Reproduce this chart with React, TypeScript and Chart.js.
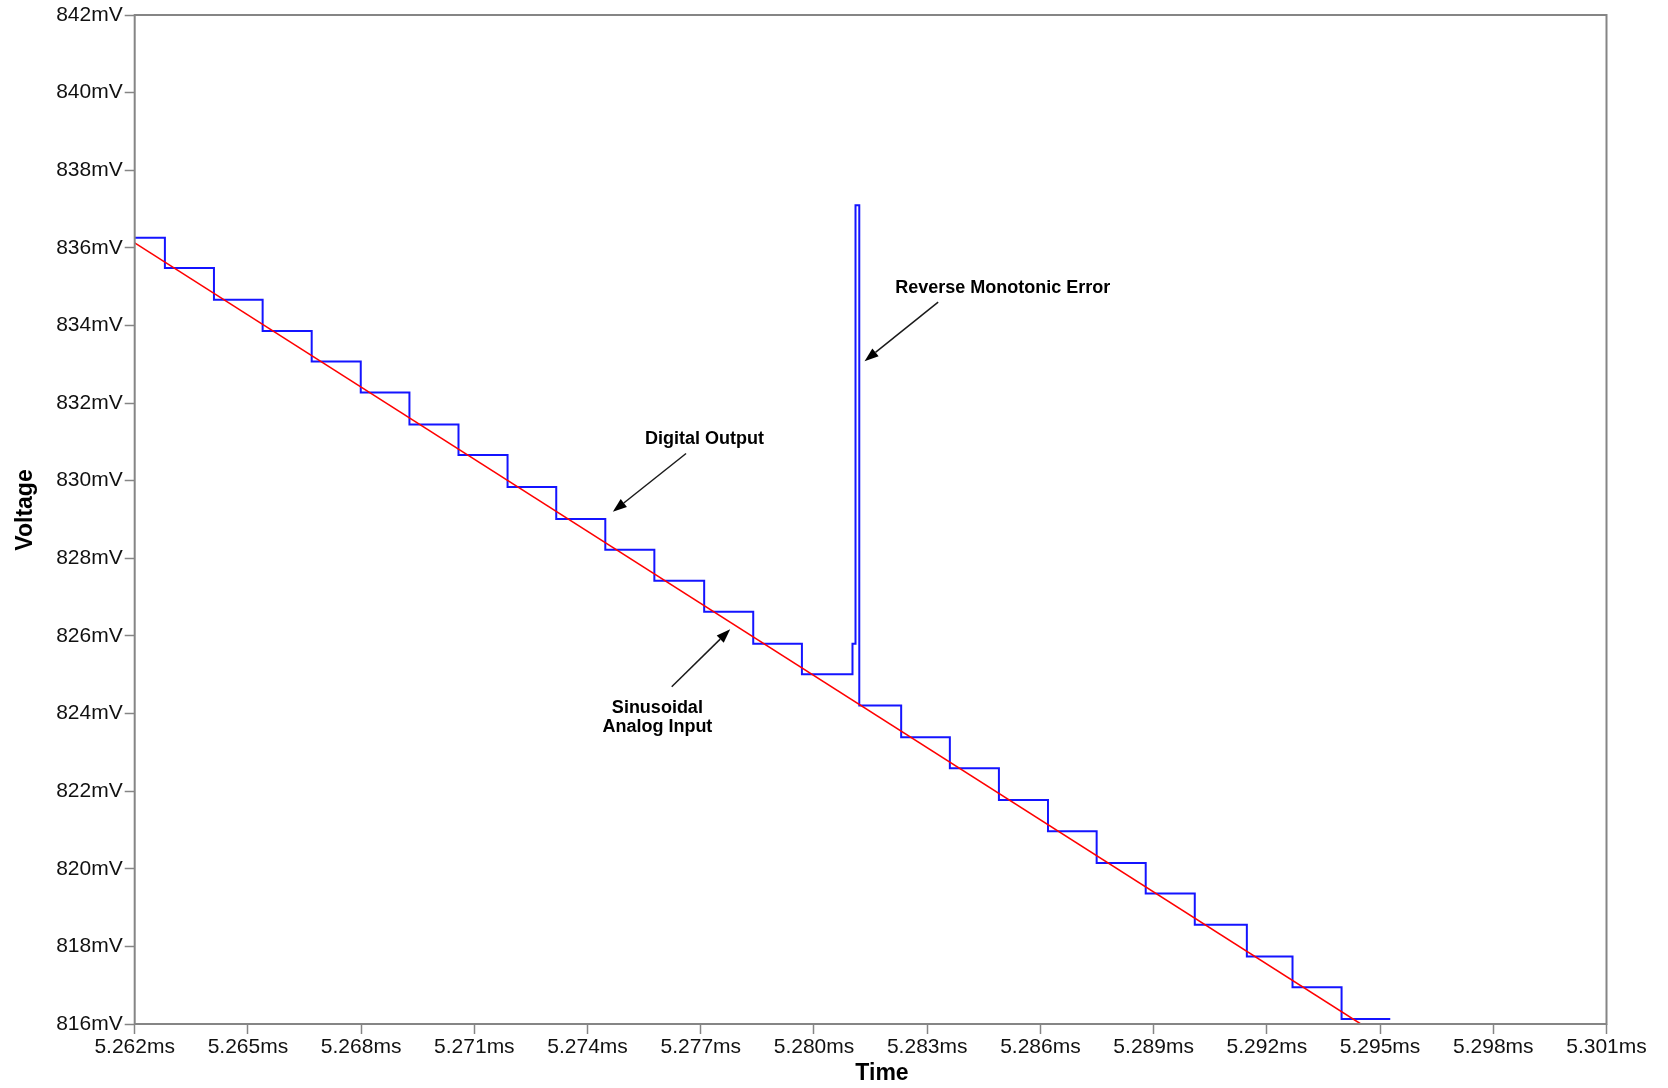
import React, { useEffect, useRef } from "react";
import { Chart, registerables } from "chart.js";

Chart.register(...registerables);

// Time axis ticks (ms) and voltage axis ticks (mV)
const xTicks = [5.262, 5.265, 5.268, 5.271, 5.274, 5.277, 5.28, 5.283, 5.286, 5.289, 5.292, 5.295, 5.298, 5.301];
const yTicks = [816, 818, 820, 822, 824, 826, 828, 830, 832, 834, 836, 838, 840, 842];

// Digital output (step-before: level holds from its time onward)
const digitalTimes = [
  5.262, 5.2628, 5.2641, 5.26539, 5.26669, 5.26799, 5.26928, 5.27058, 5.27188, 5.27317,
  5.27447, 5.27577, 5.27709, 5.27839, 5.27968, 5.28102, 5.2811, 5.2812, 5.28231, 5.2836,
  5.2849, 5.2862, 5.28749, 5.28879, 5.29009, 5.29147, 5.29268, 5.29398, 5.29527,
];
const digitalLevels = [
  836.26, 835.48, 834.66, 833.86, 833.07, 832.27, 831.45, 830.66, 829.84, 829.01,
  828.22, 827.42, 826.62, 825.8, 825.01, 825.8, 837.1, 824.21, 823.39, 822.59,
  821.77, 820.97, 820.15, 819.36, 818.56, 817.74, 816.95, 816.13, 816.13,
];

// Sinusoidal analog input (nearly straight over this window)
const analogTimes = [5.262, 5.29449];
const analogLevels = [836.13, 816.0];

// Annotations (data coordinates)
const annotationTexts = [
  { lines: ["Reverse Monotonic Error"], t: 5.285, v: 834.98 },
  { lines: ["Digital Output"], t: 5.2771, v: 831.09 },
  { lines: ["Sinusoidal", "Analog Input"], t: 5.27585, v: 824.18 },
];
const annotationArrows = [
  { t1: 5.28329, v1: 834.6, t2: 5.28134, v2: 833.08 },
  { t1: 5.27661, v1: 830.7, t2: 5.27467, v2: 829.2 },
  { t1: 5.27623, v1: 824.69, t2: 5.27778, v2: 826.17 },
];

const FONT = "'Liberation Sans', Arial, Helvetica, sans-serif";
const AXIS_GRAY = "#858585";

const overlayPlugin = {
  id: "overlay",
  afterDraw(chart: any) {
    const { ctx, chartArea, scales } = chart;
    const xs = scales.x;
    const ys = scales.y;
    ctx.save();
    // frame
    ctx.strokeStyle = AXIS_GRAY;
    ctx.lineWidth = 2;
    ctx.strokeRect(chartArea.left, chartArea.top, chartArea.right - chartArea.left, chartArea.bottom - chartArea.top);

    // axis titles
    ctx.fillStyle = "#000";
    ctx.font = `bold 23px ${FONT}`;
    ctx.textAlign = "center";
    ctx.textBaseline = "middle";
    ctx.fillText("Time", 882, 1074);
    ctx.save();
    ctx.translate(26, 510);
    ctx.rotate(-Math.PI / 2);
    ctx.fillText("Voltage", 0, 0);
    ctx.restore();

    // annotation texts
    ctx.font = `bold 18px ${FONT}`;
    for (const a of annotationTexts) {
      const x = xs.getPixelForValue(a.t);
      const y = ys.getPixelForValue(a.v);
      a.lines.forEach((ln, i) => ctx.fillText(ln, x, y + 1 + i * 19));
    }

    // arrows
    ctx.strokeStyle = "#1a1a1a";
    ctx.fillStyle = "#000";
    ctx.lineWidth = 1.5;
    for (const ar of annotationArrows) {
      const x1 = xs.getPixelForValue(ar.t1);
      const y1 = ys.getPixelForValue(ar.v1);
      const x2 = xs.getPixelForValue(ar.t2);
      const y2 = ys.getPixelForValue(ar.v2);
      const ang = Math.atan2(y2 - y1, x2 - x1);
      const hl = 14;
      const hw = 5;
      const bx = x2 - hl * Math.cos(ang);
      const by = y2 - hl * Math.sin(ang);
      ctx.beginPath();
      ctx.moveTo(x1, y1);
      ctx.lineTo(bx, by);
      ctx.stroke();
      ctx.beginPath();
      ctx.moveTo(x2, y2);
      ctx.lineTo(bx + hw * Math.sin(ang), by - hw * Math.cos(ang));
      ctx.lineTo(bx - hw * Math.sin(ang), by + hw * Math.cos(ang));
      ctx.closePath();
      ctx.fill();
    }
    ctx.restore();
  },
};

export default function App() {
  const canvasRef = useRef<HTMLCanvasElement | null>(null);

  useEffect(() => {
    const canvas = canvasRef.current;
    if (!canvas) return;
    const analog = analogTimes.map((t, i) => ({ x: t, y: analogLevels[i] }));
    const digital = digitalTimes.map((t, i) => ({ x: t, y: digitalLevels[i] }));

    const chart = new Chart(canvas, {
      type: "line",
      data: {
        datasets: [
          {
            label: "Sinusoidal Analog Input",
            data: analog,
            borderColor: "#ff0000",
            borderWidth: 1.5,
            pointRadius: 0,
            tension: 0,
          },
          {
            label: "Digital Output",
            data: digital,
            borderColor: "#1414ff",
            borderWidth: 2,
            pointRadius: 0,
            stepped: "before",
            tension: 0,
          },
        ],
      },
      options: {
        animation: false,
        responsive: false,
        devicePixelRatio: 1,
        layout: { padding: { top: 15, right: 61.5, left: 0, bottom: 0 } },
        plugins: {
          legend: { display: false },
          tooltip: { enabled: false },
        },
        scales: {
          x: {
            type: "linear",
            min: 5.262,
            max: 5.301,
            border: { display: false },
            grid: {
              drawOnChartArea: false,
              drawTicks: true,
              tickLength: 10,
              tickWidth: 1.5,
              tickColor: AXIS_GRAY,
              color: AXIS_GRAY,
            },
            ticks: {
              autoSkip: false,
              maxRotation: 0,
              minRotation: 0,
              padding: 1,
              color: "#111",
              font: { family: FONT, size: 21 },
              callback: (v: any) => Number(v).toFixed(3) + "ms",
            },
            afterBuildTicks: (scale: any) => {
              scale.ticks = xTicks.map((v) => ({ value: v }));
            },
            afterFit: (scale: any) => {
              scale.height = 64;
            },
          },
          y: {
            type: "linear",
            min: 816,
            max: 842,
            border: { display: false },
            grid: {
              drawOnChartArea: false,
              drawTicks: true,
              tickLength: 10,
              tickWidth: 1.5,
              tickColor: AXIS_GRAY,
              color: AXIS_GRAY,
            },
            ticks: {
              autoSkip: false,
              padding: 2,
              color: "#111",
              font: { family: FONT, size: 21 },
              callback: (v: any) => `${v}mV`,
            },
            afterBuildTicks: (scale: any) => {
              scale.ticks = yTicks.map((v) => ({ value: v }));
            },
            afterFit: (scale: any) => {
              scale.width = 134.7;
            },
          },
        },
      },
      plugins: [overlayPlugin],
    });
    return () => chart.destroy();
  }, []);

  return (
    <div style={{ position: "absolute", left: 0, top: 0, width: 1668, height: 1088, background: "#fff" }}>
      <canvas ref={canvasRef} width={1668} height={1088} />
    </div>
  );
}
